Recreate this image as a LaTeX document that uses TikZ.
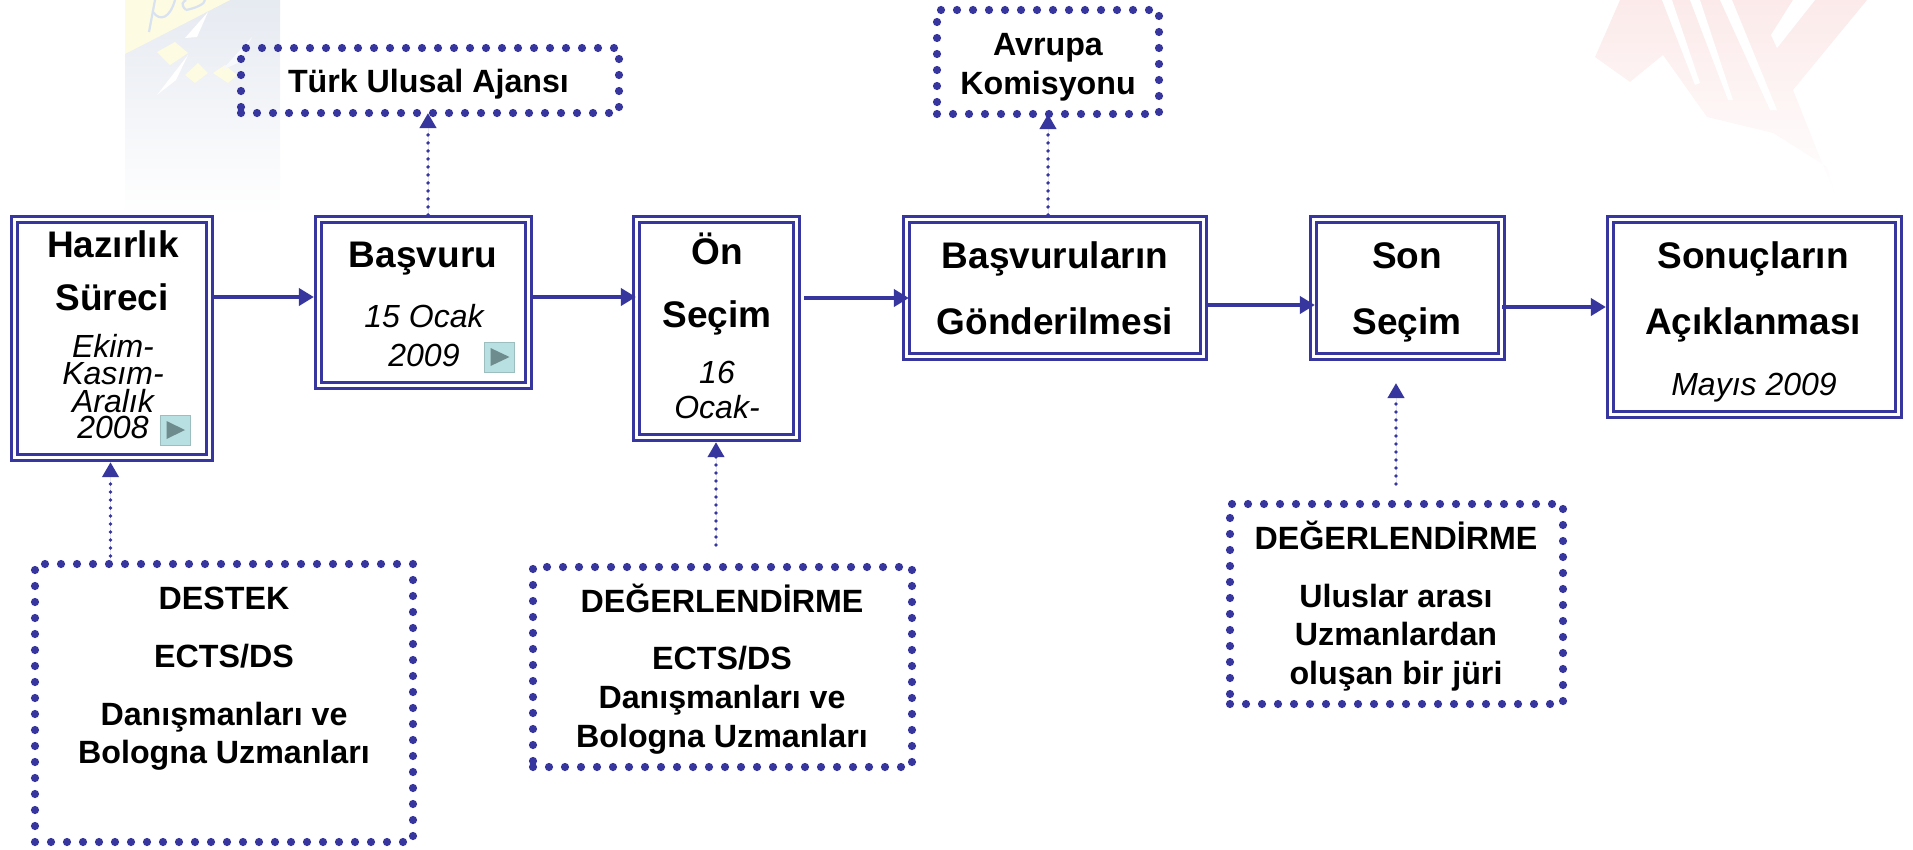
\documentclass[tikz,border=0pt]{standalone}
\usepackage{fontspec}
\setmainfont{Liberation Sans}
\usetikzlibrary{arrows.meta}
\definecolor{nv}{HTML}{36369E}
\definecolor{btnf}{HTML}{B8DFE1}
\definecolor{btnt}{HTML}{6E8B8D}
\definecolor{pnlA}{HTML}{E6EAF1}
\definecolor{pnlB}{HTML}{F8F9FC}
\definecolor{ylw}{HTML}{FDFBE2}
\definecolor{perc}{HTML}{D9E2F0}
\definecolor{rdA}{HTML}{FCEAEA}
\definecolor{rdB}{HTML}{FFFBFB}
\tikzset{
  dbox/.style={draw=nv,line width=3.2pt,double=white,double distance=2.8pt,outer sep=4.6pt,inner sep=0pt},
  dotbox/.style={draw=nv,line width=8.2pt,line cap=round,dash pattern=on 0pt off 16pt,outer sep=0pt,inner sep=0pt},
  ttl/.style={anchor=base,inner sep=0pt,font=\bfseries\fontsize{37}{37}\selectfont},
  dte/.style={anchor=base,inner sep=0pt,font=\itshape\fontsize{32}{32}\selectfont},
  lbl/.style={anchor=base,inner sep=0pt,font=\bfseries\fontsize{32.2}{32.2}\selectfont},
  flow/.style={draw=nv,line width=4.6pt,-{Triangle[length=15pt,width=17pt]},fill=nv},
  dotarrow/.style={draw=nv,line width=3.8pt,line cap=round,dash pattern=on 0pt off 8pt,-{Triangle[length=15pt,width=16pt]},fill=nv},
  btn/.style={fill=btnf,draw=btnf!85!black,line width=.8pt,inner sep=0pt,minimum width=30pt,minimum height=30pt},
}
\begin{document}
\begin{tikzpicture}[x=1pt,y=-1pt]
\useasboundingbox (0,0) rectangle (1913,849);
% faint background marks
\shade[top color=pnlA,middle color=pnlB,bottom color=white] (125,0) rectangle (280,215);
\fill[ylw] (125,0) -- (230,0) -- (125,54) -- cycle;
\fill[ylw] (157,52) -- (175,42) -- (188,53) -- (170,65) -- cycle;
\fill[ylw] (185,75) -- (198,63) -- (208,73) -- (195,83) -- cycle;
\fill[ylw] (213,73) -- (225,65) -- (237,75) -- (228,83) -- cycle;
\fill[white] (185,38) -- (208,12) -- (197,37) -- cycle;
\fill[white] (157,95) -- (188,55) -- (176,80) -- cycle;
\fill[pnlB] (222,70) -- (252,37) -- (240,62) -- cycle;
\draw[perc,line width=2.2pt] (149,32) -- (155,0);
\draw[perc,line width=2.2pt] (153,12) .. controls (160,22) and (170,18) .. (175,0);
\draw[perc,line width=2.2pt] (186,10) .. controls (196,8) and (205,4) .. (205,0);
\draw[perc,line width=2.2pt] (186,10) .. controls (180,4) and (183,2) .. (186,0);
\shade[top color=rdA,middle color=rdB,bottom color=white]
  (1620,0) -- (1595,57) -- (1630,82) -- (1663,55) -- (1707,117) -- (1773,133) -- (1827,167) -- (1837,200) -- (1793,90) -- (1867,0) -- cycle;
\fill[white] (1662,0) -- (1672,0) -- (1700,83) -- (1695,85) -- cycle;
\fill[white] (1690,0) -- (1700,0) -- (1733,100) -- (1728,100) -- cycle;
\fill[white] (1720,0) -- (1732,0) -- (1777,110) -- (1770,110) -- cycle;
\fill[white] (1793,0) -- (1815,0) -- (1777,48) -- (1771,35) -- cycle;

% process boxes
\node[dbox,minimum width=195pt,minimum height=238pt] (hz) at (112,338.5) {};
\node[dbox,minimum width=210pt,minimum height=166pt] (bv) at (423.5,302.5) {};
\node[dbox,minimum width=160pt,minimum height=218pt] (on) at (716.5,328.5) {};
\node[dbox,minimum width=297pt,minimum height=137pt] (bg) at (1055,288) {};
\node[dbox,minimum width=188pt,minimum height=137pt] (ss) at (1407.5,288) {};
\node[dbox,minimum width=288pt,minimum height=195pt] (sn) at (1754.5,317) {};

% dotted boxes
\node[dotbox,minimum width=378pt,minimum height=65pt] (tua) at (430,80.5) {};
\node[dotbox,minimum width=222pt,minimum height=104pt] (ak) at (1048,62) {};
\node[dotbox,minimum width=378pt,minimum height=278pt] (ds) at (224,703) {};
\node[dotbox,minimum width=379pt,minimum height=200pt] (d1) at (722.5,667) {};
\node[dotbox,minimum width=333pt,minimum height=200pt] (d2) at (1396.5,604) {};

% solid connectors
\draw[flow] ([xshift=-3pt]hz.east |- 0,297) -- (bv.west |- 0,297);
\draw[flow] (bv.east |- 0,297) -- ([xshift=4pt]on.west |- 0,297);
\draw[flow] ([xshift=3pt]on.east |- 0,298) -- ([xshift=7pt]bg.west |- 0,298);
\draw[flow] (bg.east |- 0,305) -- ([xshift=6pt]ss.west |- 0,305);
\draw[flow] ([xshift=-4pt]ss.east |- 0,307) -- (sn.west |- 0,307);

% dotted connectors
\draw[dotarrow] (bv.north -| 428,0) -- (tua.south -| 428,0);
\draw[dotarrow] (bg.north -| 1048,0) -- (ak.south);
\draw[dotarrow] (ds.north -| 110.5,0) -- (hz.south -| 110.5,0);
\coordinate (d1s) at (716,545);
\coordinate (d2s) at (1396,484);
\coordinate (d2e) at (1396,383);
\draw[dotarrow] (d1s) -- (on.south -| d1s);
\draw[dotarrow] (d2s) -- (d2e);

% buttons
\node[btn] (b1) at (175.5,430.5) {};
\fill[btnt] (166.5,421) -- (185,430) -- (166.5,439) -- cycle;
\node[btn] (b2) at (499.5,357) {};
\fill[btnt] (490.5,348) -- (509.5,357) -- (490.5,366) -- cycle;

% texts
\node[ttl] (t1) at (113,257) {Hazırlık};
\node[ttl] (t2) at (112,310) {Süreci};
\node[dte] (t3) at (113,357) {Ekim-};
\node[dte] (t4) at (113,384) {Kasım-};
\node[dte] (t5) at (113,412) {Aralık};
\node[dte] (t6) at (113,438) {2008};
\node[ttl] (t7) at (423,267) {Başvuru};
\node[dte] (t8) at (424,327) {15 Ocak};
\node[dte] (t9) at (424,366) {2009};
\node[ttl] (t10) at (717,264) {Ön};
\node[ttl] (t11) at (717,327) {Seçim};
\node[dte] (t12) at (717,383) {16};
\node[dte] (t13) at (717,418) {Ocak-};
\node[ttl] (t14) at (1055,268) {Başvuruların};
\node[ttl] (t15) at (1055,334) {Gönderilmesi};
\node[ttl] (t16) at (1407,268) {Son};
\node[ttl] (t17) at (1407,334) {Seçim};
\node[ttl] (t18) at (1753,268) {Sonuçların};
\node[ttl] (t19) at (1753,334) {Açıklanması};
\node[dte] (t20) at (1754,395) {Mayıs 2009};

\node[lbl] (l1) at (428.5,92) {Türk Ulusal Ajansı};
\node[lbl] (l2) at (1048,55) {Avrupa};
\node[lbl] (l3) at (1048,94) {Komisyonu};
\node[lbl] (l4) at (224,609) {DESTEK};
\node[lbl] (l5) at (224,667) {ECTS/DS};
\node[lbl] (l6) at (224,725) {Danışmanları ve};
\node[lbl] (l7) at (224,763) {Bologna Uzmanları};
\node[lbl] (l8) at (722,612) {DEĞERLENDİRME};
\node[lbl] (l9) at (722,669) {ECTS/DS};
\node[lbl] (l10) at (722,708) {Danışmanları ve};
\node[lbl] (l11) at (722,747) {Bologna Uzmanları};
\node[lbl] (l12) at (1396,549) {DEĞERLENDİRME};
\node[lbl] (l13) at (1396,607) {Uluslar arası};
\node[lbl] (l14) at (1396,645) {Uzmanlardan};
\node[lbl] (l15) at (1396,684) {oluşan bir jüri};
\end{tikzpicture}
\end{document}
